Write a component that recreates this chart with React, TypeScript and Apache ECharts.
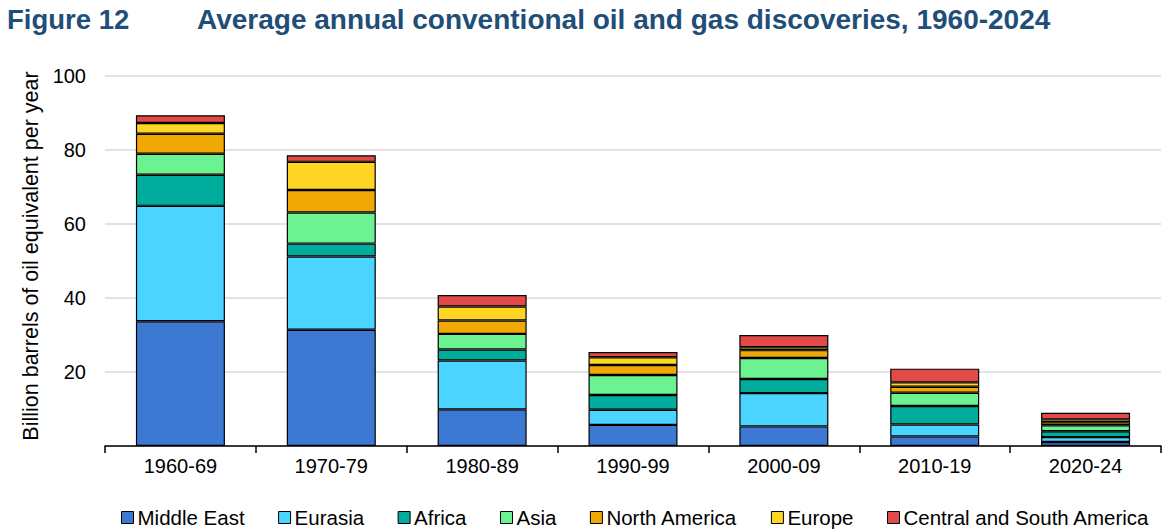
import React, { useEffect, useRef } from "react";
import * as echarts from "echarts";

const categories = ["1960-69", "1970-79", "1980-89", "1990-99", "2000-09", "2010-19", "2020-24"];
const middleEast = [33.7, 31.4, 9.9, 5.7, 5.3, 2.6, 1.1];
const eurasia = [31.2, 19.8, 13.2, 4.1, 9.0, 3.2, 1.3];
const africa = [8.4, 3.5, 3.0, 4.0, 3.8, 5.0, 1.6];
const asia = [5.7, 8.4, 4.2, 5.4, 5.7, 3.6, 1.6];
const northAmerica = [5.4, 6.1, 3.6, 2.7, 2.1, 1.6, 0.8];
const europe = [2.9, 7.6, 3.8, 2.1, 0.8, 1.2, 0.8];
const centralSouthAmerica = [2.1, 1.8, 3.1, 1.4, 3.3, 3.7, 1.8];

const seriesNames = ["Middle East", "Eurasia", "Africa", "Asia", "North America", "Europe", "Central and South America"];
const seriesValues = [middleEast, eurasia, africa, asia, northAmerica, europe, centralSouthAmerica];
const seriesColors = ["#3D78D3", "#4AD4FF", "#00AD9C", "#6CF290", "#F0A804", "#FFD523", "#E24A4A"];

const yTicks = [0, 20, 40, 60, 80, 100];
const yAxisTitle = "Billion barrels of oil equivalent per year";

export default function App() {
  const ref = useRef<HTMLDivElement>(null);
  useEffect(() => {
    document.body.style.margin = "0";
    const chart = echarts.init(ref.current!, null, { renderer: "svg" });
    const font = "'Liberation Sans', Arial, sans-serif";
    chart.setOption({
      animation: false,
      backgroundColor: "#ffffff",
      textStyle: { fontFamily: font },
      title: [
        {
          text: "Figure 12",
          left: 2,
          top: 0,
          textStyle: { fontFamily: font, fontWeight: "bold", fontSize: 27.5, color: "#1F4E79" },
        },
        {
          text: "Average annual conventional oil and gas discoveries, 1960-2024",
          left: 192,
          top: 0,
          textStyle: { fontFamily: font, fontWeight: "bold", fontSize: 28, color: "#1F4E79" },
        },
      ],
      graphic: [
        {
          type: "text",
          x: 31,
          y: 256,
          rotation: Math.PI / 2,
          style: {
            text: yAxisTitle,
            fontFamily: font,
            fontSize: 21.5,
            fill: "#000",
            textAlign: "center",
            textVerticalAlign: "middle",
          },
        },
      ],
      grid: { left: 105, right: 15, top: 76, bottom: 86, containLabel: false },
      legend: {
        data: seriesNames,
        left: 116,
        top: 502,
        icon: "rect",
        itemWidth: 12,
        itemHeight: 12,
        itemGap: 33.5,
        textStyle: { fontFamily: font, fontSize: 20.5, color: "#000", padding: [0, 0, 0, -1] },
        itemStyle: { borderColor: "#000", borderWidth: 1 },
      },
      xAxis: {
        type: "category",
        data: categories,
        axisLine: { lineStyle: { color: "#000", width: 1.5 } },
        axisTick: { show: true, length: 7, lineStyle: { color: "#000", width: 1.5 } },
        axisLabel: { fontFamily: font, fontSize: 20, color: "#000", margin: 10 },
      },
      yAxis: {
        type: "value",
        min: yTicks[0],
        max: yTicks[yTicks.length - 1],
        interval: 20,
        axisLine: { show: false },
        axisTick: { show: false },
        axisLabel: {
          fontFamily: font,
          fontSize: 20,
          color: "#000",
          margin: 19,
          formatter: (v: number) => (v === 0 ? "" : String(v)),
        },
        splitLine: { lineStyle: { color: "#D9D9D9", width: 1.5 } },
      },
      series: seriesNames.map((name, i) => ({
        name,
        type: "bar",
        stack: "total",
        data: seriesValues[i],
        barWidth: "59%",
        itemStyle: { color: seriesColors[i], borderColor: "#000", borderWidth: 1.2 },
      })),
    });
    return () => chart.dispose();
  }, []);
  return <div ref={ref} style={{ width: 1176, height: 532 }} />;
}
